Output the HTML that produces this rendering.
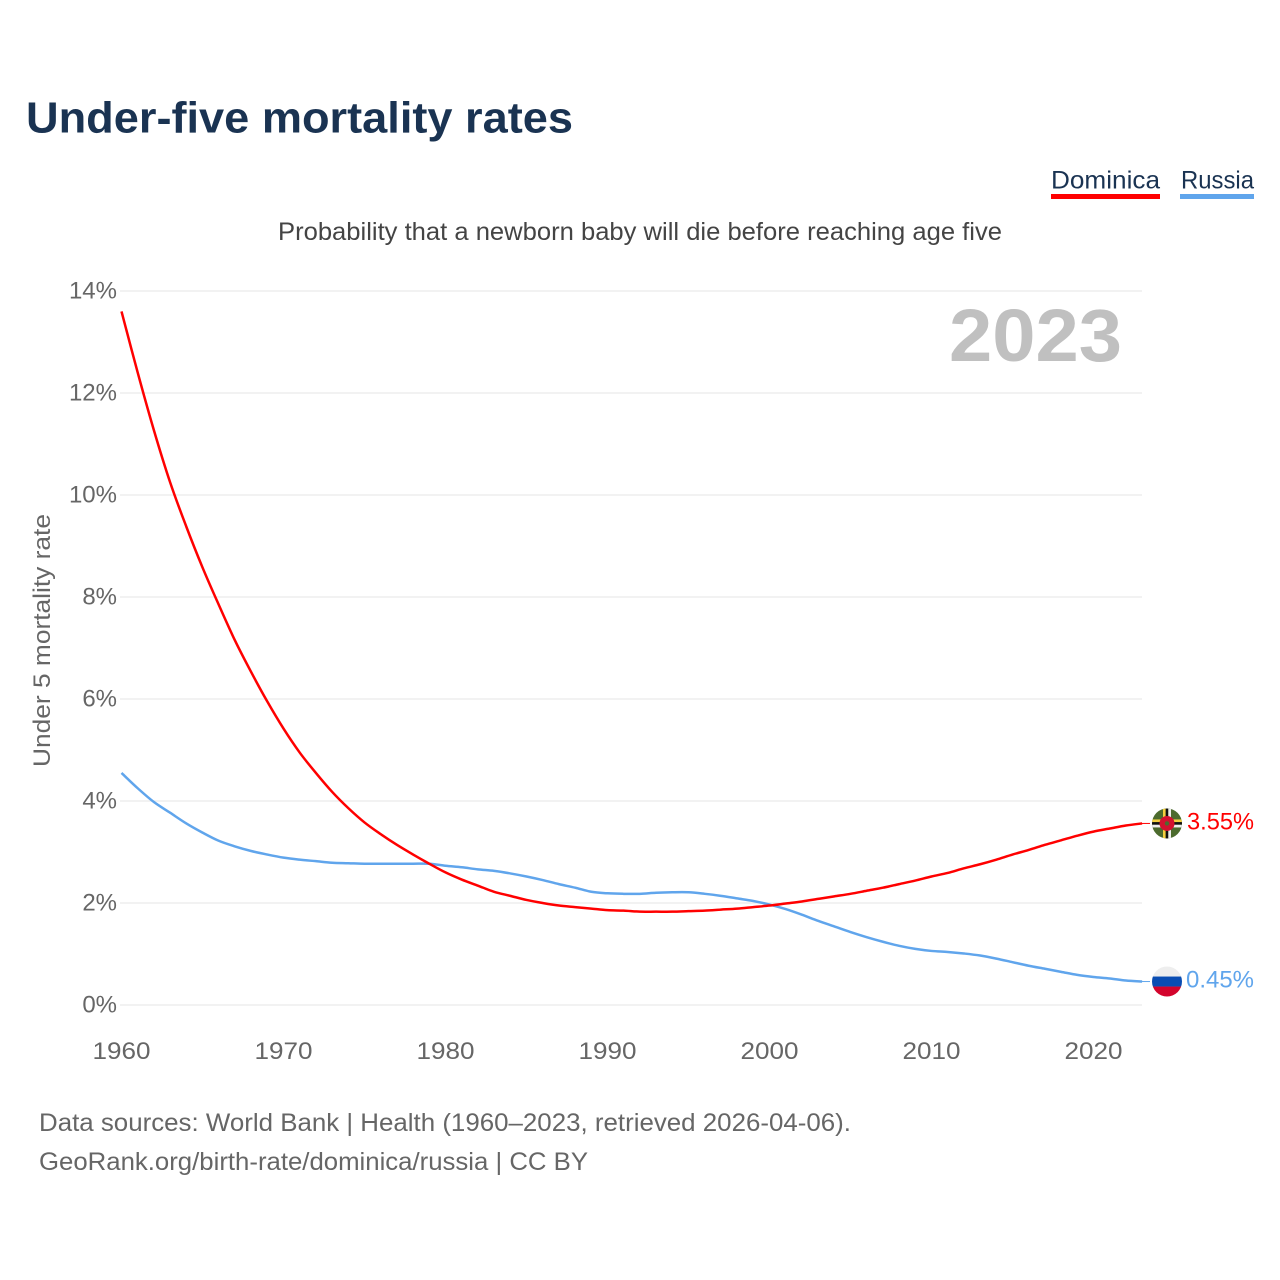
<!DOCTYPE html>
<html lang="en">
<head>
<meta charset="utf-8">
<title>Under-five mortality rates</title>
<style>
html,body{margin:0;padding:0;background:#fff;}
svg{display:block;font-family:"Liberation Sans",sans-serif;}
</style>
</head>
<body>
<svg id="chart" xmlns="http://www.w3.org/2000/svg" width="1280" height="1280" viewBox="0 0 1280 1280">
  <defs>
    <clipPath id="flag-clip"><circle cx="0" cy="0" r="15"/></clipPath>
  </defs>
  <rect width="1280" height="1280" fill="#fff"/>
  <text x="26" y="132.5" font-size="44" font-weight="700" fill="#1a3352" textLength="547" lengthAdjust="spacingAndGlyphs">Under-five mortality rates</text>
  <g>
    <text x="1051" y="188.5" font-size="25" fill="#1a3352" textLength="109" lengthAdjust="spacingAndGlyphs">Dominica</text>
    <rect x="1051" y="194" width="109" height="5" fill="#ff0000"/>
  </g>
  <g>
    <text x="1181" y="188.5" font-size="25" fill="#1a3352" textLength="73" lengthAdjust="spacingAndGlyphs">Russia</text>
    <rect x="1180" y="194" width="74" height="5" fill="#60a5ec"/>
  </g>
  <text x="278" y="240" font-size="25" fill="#444" textLength="724" lengthAdjust="spacingAndGlyphs">Probability that a newborn baby will die before reaching age five</text>
  <g id="grid"></g>
  <g id="yticks"></g>
  <g id="xticks"></g>
  <text transform="translate(50,767) rotate(-90)" font-size="24" fill="#666" textLength="253" lengthAdjust="spacingAndGlyphs">Under 5 mortality rate</text>
  <text x="949" y="361" font-size="74" font-weight="700" fill="#c0c0c0" textLength="173" lengthAdjust="spacingAndGlyphs">2023</text>
  <g id="series"></g>
  <g id="flag-dominica">
    <g clip-path="url(#flag-clip)">
      <rect x="-15" y="-15" width="30" height="30" fill="#4c6b2e"/>
      <rect x="-4" y="-15" width="2.7" height="30" fill="#f4d03f"/>
      <rect x="-1.3" y="-15" width="2.6" height="30" fill="#111"/>
      <rect x="1.3" y="-15" width="2.7" height="30" fill="#eee"/>
      <rect x="-15" y="-4" width="30" height="2.7" fill="#f4d03f"/>
      <rect x="-15" y="-1.3" width="30" height="2.6" fill="#111"/>
      <rect x="-15" y="1.3" width="30" height="2.7" fill="#eee"/>
      <circle cx="0" cy="0" r="7.5" fill="#d3112f"/>
      <circle cx="0" cy="0" r="2.2" fill="#4c6b2e"/>
    </g>
  </g>
  <g id="flag-russia">
    <g clip-path="url(#flag-clip)">
      <rect x="-15" y="-15" width="30" height="10" fill="#eeeeee"/>
      <rect x="-15" y="-5" width="30" height="10" fill="#0a4db3"/>
      <rect x="-15" y="5" width="30" height="10" fill="#d3042c"/>
    </g>
  </g>
  <text id="label-dominica" x="1187" font-size="24" fill="#ff0000" textLength="67" lengthAdjust="spacingAndGlyphs"></text>
  <text id="label-russia" x="1186" font-size="24" fill="#60a5ec" textLength="68" lengthAdjust="spacingAndGlyphs"></text>
  <text x="39" y="1131" font-size="25" fill="#666" textLength="812" lengthAdjust="spacingAndGlyphs">Data sources: World Bank | Health (1960–2023, retrieved 2026-04-06).</text>
  <text x="39" y="1170" font-size="25" fill="#666" textLength="549" lengthAdjust="spacingAndGlyphs">GeoRank.org/birth-rate/dominica/russia | CC BY</text>
</svg>
<script>
const startYear = 1960;
const yTickValues = [0, 2, 4, 6, 8, 10, 12, 14];
const yTickLabels = ["0%", "2%", "4%", "6%", "8%", "10%", "12%", "14%"];
const xTickValues = [1960, 1970, 1980, 1990, 2000, 2010, 2020];
const xTickLabels = ["1960", "1970", "1980", "1990", "2000", "2010", "2020"];
const dominicaValues = [13.6,12.4,11.27,10.25,9.38,8.58,7.85,7.15,6.53,5.95,5.42,4.95,4.55,4.18,3.86,3.58,3.35,3.14,2.95,2.77,2.6,2.46,2.34,2.22,2.14,2.06,2.0,1.95,1.92,1.89,1.86,1.85,1.83,1.83,1.83,1.84,1.85,1.87,1.89,1.92,1.95,1.99,2.03,2.08,2.13,2.18,2.24,2.3,2.37,2.44,2.52,2.59,2.68,2.76,2.85,2.95,3.04,3.14,3.23,3.32,3.4,3.46,3.52,3.56];
const russiaValues = [4.55,4.25,3.98,3.77,3.56,3.38,3.22,3.11,3.02,2.95,2.89,2.85,2.82,2.79,2.78,2.77,2.77,2.77,2.77,2.77,2.73,2.7,2.66,2.63,2.58,2.52,2.45,2.37,2.3,2.22,2.19,2.18,2.18,2.2,2.21,2.21,2.18,2.14,2.09,2.04,1.97,1.88,1.77,1.65,1.54,1.43,1.33,1.24,1.16,1.1,1.06,1.04,1.01,0.97,0.91,0.84,0.77,0.71,0.65,0.59,0.55,0.52,0.48,0.46];
const dominicaLabel = "3.55%";
const russiaLabel = "0.45%";

const NS = "http://www.w3.org/2000/svg";
const xScale = function (year) { return 121.5 + (year - 1960) * 16.2; };
const yScale = function (v) { return 1005 - v * 51; };
const make = function (tag, parent) {
  const el = document.createElementNS(NS, tag);
  parent.appendChild(el);
  return el;
};

const grid = document.getElementById("grid");
const yticks = document.getElementById("yticks");
yTickValues.forEach(function (v, i) {
  const line = make("line", grid);
  
  
  line.setAttribute("x1", 120);
  line.setAttribute("x2", 1142);
  line.setAttribute("y1", yScale(v));
  line.setAttribute("y2", yScale(v));
  line.setAttribute("stroke", "#eeeeee");
  line.setAttribute("stroke-width", "1.5");
  const t = make("text", yticks);
  
  
  t.setAttribute("x", 117);
  t.setAttribute("y", yScale(v) + 7.5);
  t.setAttribute("text-anchor", "end");
  t.setAttribute("font-size", "24");
  t.setAttribute("fill", "#666");
  t.textContent = yTickLabels[i];
});

const xticks = document.getElementById("xticks");
xTickValues.forEach(function (y, i) {
  const t = make("text", xticks);
  
  
  t.setAttribute("x", xScale(y));
  t.setAttribute("y", 1059);
  t.setAttribute("text-anchor", "middle");
  t.setAttribute("font-size", "24");
  t.setAttribute("fill", "#666");
  t.setAttribute("textLength", "58");
  t.setAttribute("lengthAdjust", "spacingAndGlyphs");
  t.textContent = xTickLabels[i];
});

const linePath = function (values) {
  const pts = values.map(function (v, i) {
    return [xScale(startYear + i), yScale(v)];
  });
  let d = "M" + pts[0][0].toFixed(2) + " " + pts[0][1].toFixed(2);
  for (let i = 0; i < pts.length - 1; i++) {
    const p0 = pts[Math.max(i - 1, 0)];
    const p1 = pts[i];
    const p2 = pts[i + 1];
    const p3 = pts[Math.min(i + 2, pts.length - 1)];
    const c1x = p1[0] + (p2[0] - p0[0]) / 6;
    const c1y = p1[1] + (p2[1] - p0[1]) / 6;
    const c2x = p2[0] - (p3[0] - p1[0]) / 6;
    const c2y = p2[1] - (p3[1] - p1[1]) / 6;
    d += " C" + c1x.toFixed(2) + " " + c1y.toFixed(2) + " " + c2x.toFixed(2) + " " + c2y.toFixed(2) + " " + p2[0].toFixed(2) + " " + p2[1].toFixed(2);
  }
  return d;
};

const seriesGroup = document.getElementById("series");

const russiaLine = make("path", seriesGroup);


russiaLine.setAttribute("d", linePath(russiaValues));
russiaLine.setAttribute("fill", "none");
russiaLine.setAttribute("stroke", "#60a5ec");
russiaLine.setAttribute("stroke-width", "2.5");
russiaLine.setAttribute("stroke-linejoin", "round");

const dominicaLine = make("path", seriesGroup);


dominicaLine.setAttribute("d", linePath(dominicaValues));
dominicaLine.setAttribute("fill", "none");
dominicaLine.setAttribute("stroke", "#ff0000");
dominicaLine.setAttribute("stroke-width", "2.5");
dominicaLine.setAttribute("stroke-linejoin", "round");

const lastDominica = dominicaValues[dominicaValues.length - 1];
const lastRussia = russiaValues[russiaValues.length - 1];

const connectorDominica = make("line", seriesGroup);


connectorDominica.setAttribute("x1", 1142);
connectorDominica.setAttribute("x2", 1150);
connectorDominica.setAttribute("y1", yScale(lastDominica));
connectorDominica.setAttribute("y2", yScale(lastDominica));
connectorDominica.setAttribute("stroke", "#ff0000");
connectorDominica.setAttribute("stroke-width", "1");

const connectorRussia = make("line", seriesGroup);


connectorRussia.setAttribute("x1", 1142);
connectorRussia.setAttribute("x2", 1150);
connectorRussia.setAttribute("y1", yScale(lastRussia));
connectorRussia.setAttribute("y2", yScale(lastRussia));
connectorRussia.setAttribute("stroke", "#60a5ec");
connectorRussia.setAttribute("stroke-width", "1");

document.getElementById("flag-dominica").setAttribute("transform", "translate(1167," + yScale(lastDominica) + ")");
document.getElementById("flag-russia").setAttribute("transform", "translate(1167," + yScale(lastRussia) + ")");

const labelDominica = document.getElementById("label-dominica");
labelDominica.setAttribute("y", yScale(lastDominica) + 6);
labelDominica.textContent = dominicaLabel;

const labelRussia = document.getElementById("label-russia");
labelRussia.setAttribute("y", yScale(lastRussia) + 6);
labelRussia.textContent = russiaLabel;
</script>
</body>
</html>
